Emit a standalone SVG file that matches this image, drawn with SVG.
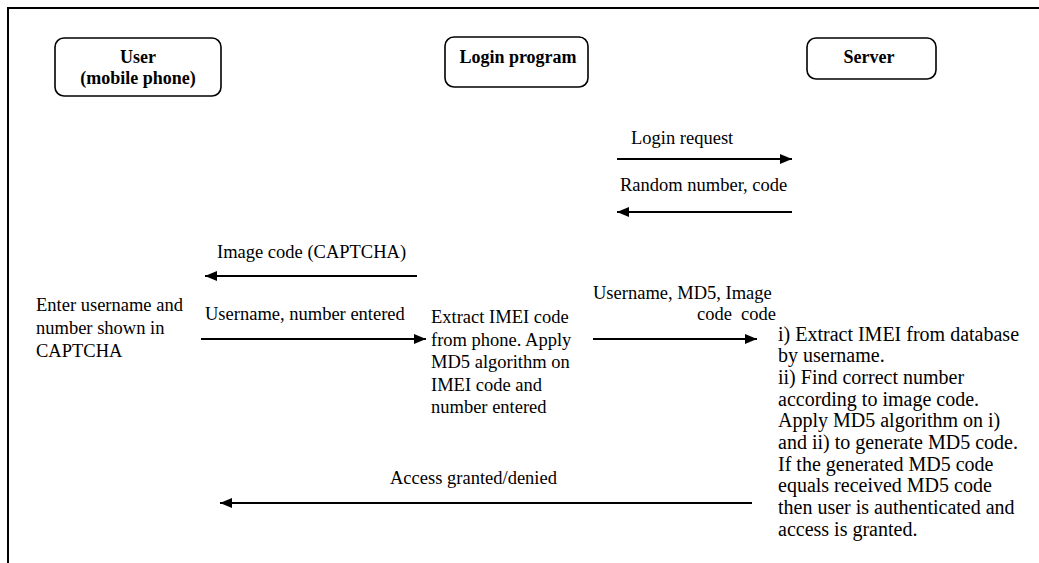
<svg xmlns="http://www.w3.org/2000/svg" width="1039" height="563" viewBox="0 0 1039 563">
<style>
.box{fill:#fff;stroke:#000;stroke-width:1.6}
.b{font-weight:bold;font-size:18px;fill:#000;text-anchor:middle}
.t{font-size:18.5px;fill:#000}
.s{font-size:20px;fill:#000}
.c{stroke:#000;stroke-width:2;fill:none}
</style>
<defs>
<marker id="ah" markerWidth="12" markerHeight="10" refX="12" refY="5" orient="auto" markerUnits="userSpaceOnUse">
<path d="M0,0 L12,5 L0,10 Z" fill="#000"/>
</marker>
</defs>
<rect width="1039" height="563" fill="#fff"/>
<path d="M8,563 V8 H1039" fill="none" stroke="#000" stroke-width="2"/>
<g font-family="'Liberation Serif', 'Times New Roman', 'DejaVu Serif', serif">
<g id="user">
<rect class="box" x="55" y="38" width="166" height="58" rx="9"/>
<text class="b" x="138" y="63">User</text>
<text class="b" x="138" y="84">(mobile phone)</text>
</g>
<g id="login">
<rect class="box" x="445" y="37" width="143" height="50" rx="9"/>
<text class="b" x="518" y="63">Login program</text>
</g>
<g id="server">
<rect class="box" x="807" y="38" width="129" height="41" rx="9"/>
<text class="b" x="869" y="63">Server</text>
</g>
<g id="user-action">
<text class="t" x="36" y="311">Enter username and</text>
<text class="t" x="36" y="334">number shown in</text>
<text class="t" x="36" y="357">CAPTCHA</text>
</g>
<g id="login-action">
<text class="t" x="431" y="323">Extract IMEI code</text>
<text class="t" x="431" y="346">from phone. Apply</text>
<text class="t" x="431" y="368">MD5 algorithm on</text>
<text class="t" x="431" y="391">IMEI code and</text>
<text class="t" x="431" y="413">number entered</text>
</g>
<g id="server-action">
<text class="s" x="778" y="341">i) Extract IMEI from database</text>
<text class="s" x="778" y="362">by username.</text>
<text class="s" x="778" y="384">ii) Find correct number</text>
<text class="s" x="778" y="406">according to image code.</text>
<text class="s" x="778" y="427">Apply MD5 algorithm on i)</text>
<text class="s" x="778" y="449">and ii) to generate MD5 code.</text>
<text class="s" x="778" y="471">If the generated MD5 code</text>
<text class="s" x="778" y="492">equals received MD5 code</text>
<text class="s" x="778" y="514">then user is authenticated and</text>
<text class="s" x="778" y="536">access is granted.</text>
</g>
<g id="connectors">
<line class="c" x1="617" y1="159" x2="792" y2="159" marker-end="url(#ah)"/>
<text class="t" x="631" y="144">Login request</text>
<line class="c" x1="792" y1="212" x2="617" y2="212" marker-end="url(#ah)"/>
<text class="t" x="620" y="191">Random number, code</text>
<line class="c" x1="417" y1="276" x2="205" y2="276" marker-end="url(#ah)"/>
<text class="t" x="217" y="258">Image code (CAPTCHA)</text>
<line class="c" x1="201" y1="339" x2="426" y2="339" marker-end="url(#ah)"/>
<text class="t" x="205" y="320">Username, number entered</text>
<line class="c" x1="593" y1="339" x2="757" y2="339" marker-end="url(#ah)"/>
<text class="t" x="593" y="299">Username, MD5, Image</text>
<text class="t" x="697" y="320">code</text>
<text class="t" x="741" y="320">code</text>
<line class="c" x1="752" y1="503" x2="220" y2="503" marker-end="url(#ah)"/>
<text class="t" x="390" y="484">Access granted/denied</text>
</g>
</g>
</svg>
